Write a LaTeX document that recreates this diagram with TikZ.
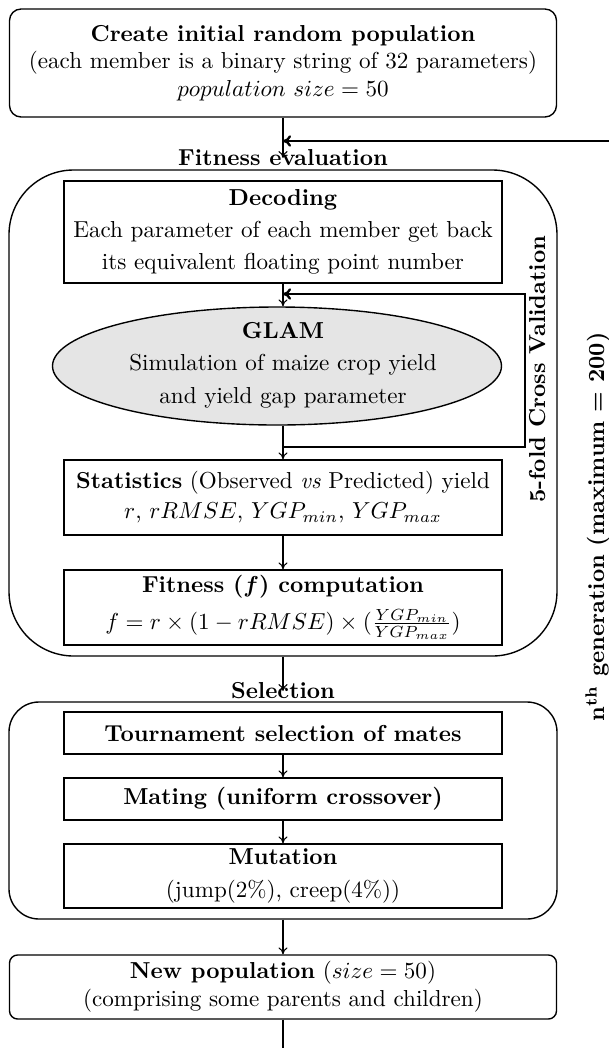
\documentclass[tikz,border=0pt]{standalone}
\usepackage{amsmath}
\usetikzlibrary{arrows.meta,shapes.geometric}
\definecolor{glamfill}{gray}{0.9}
\begin{document}
\begin{tikzpicture}[x=0.433pt,y=-0.433pt,
  box/.style={draw, line width=0.6pt, align=center, inner sep=0pt, minimum width=438*0.433pt},
  outerbox/.style={draw, line width=0.6pt, inner sep=0pt, minimum width=548*0.433pt},
  arr/.style={-{To[length=3pt,width=4pt]}, line width=0.45pt},
  thickarr/.style={-{To[length=3.5pt,width=5pt]}, line width=1pt},
  thickline/.style={line width=1pt},
  lbl/.style={font=\bfseries, inner sep=0pt}
]
\useasboundingbox (0,0) rectangle (609,1048);

% initial population
\node[draw, line width=0.6pt, rounded corners=5pt, minimum width=547*0.433pt, minimum height=108*0.433pt, align=center, inner sep=0pt] (init) at (283,63)
  {\textbf{Create initial random population}\\(each member is a binary string of 32 parameters)\\$population\ size=50$};

% fitness evaluation block
\node[outerbox, rounded corners=28pt, minimum height=486*0.433pt] (fit) at (283,413) {};
\node[lbl] (fitlbl) at (283,158) {Fitness evaluation};

\node[box, minimum height=102*0.433pt] (dec) at (283,232)
  {\textbf{Decoding}\\[2pt]Each parameter of each member get back\\[2pt]its equivalent floating point number};

\node[ellipse, draw, fill=glamfill, line width=0.6pt, minimum width=449*0.433pt, minimum height=118*0.433pt, inner sep=0pt] (glam) at (277,366) {};
\node[align=center, inner sep=0pt] (glamtext) at (283,365)
  {\textbf{GLAM}\\[2pt]Simulation of maize crop yield\\[2pt]and yield gap parameter};

\node[box, minimum height=75*0.433pt] (stats) at (283,497.5)
  {\textbf{Statistics} (Observed \textit{vs} Predicted) yield\\[1pt]$r$, $rRMSE$, $YGP_{min}$, $YGP_{max}$};

\node[box, minimum height=75*0.433pt] (fc) at (283,607.5)
  {\textbf{Fitness ($\boldsymbol{f}$) computation}\\[4pt]$f = r\times(1-rRMSE)\times(\frac{YGP_{min}}{YGP_{max}})$};

% cross validation loop
\coordinate (lpin) at (283,294);
\coordinate (lptr) at (525,294);
\coordinate (lpbr) at (525,447);
\coordinate (lpout) at (283,447);
\draw[thickarr] (lpout) -- (lpbr) -- (lptr) -- (lpin);
\node[lbl, rotate=90] (cv) at (538,369) {5-fold Cross Validation};

% selection block
\node[lbl] (sellbl) at (283,691) {Selection};
\node[outerbox, rounded corners=13pt, minimum height=217*0.433pt] (sel) at (283,810.5) {};
\node[box, minimum height=42*0.433pt] (tour) at (283,733) {\textbf{Tournament selection of mates}};
\node[box, minimum height=42*0.433pt] (mate) at (283,799) {\textbf{Mating (uniform crossover)}};
\node[box, minimum height=64*0.433pt] (mut) at (283,876) {\textbf{Mutation}\\[2pt](jump(2\%), creep(4\%))};

% new population
\node[draw, line width=0.6pt, rounded corners=3.5pt, minimum width=547*0.433pt, minimum height=64*0.433pt, align=center, inner sep=0pt] (np) at (283,987)
  {\textbf{New population} ($size=50$)\\(comprising some parents and children)};

% generation label
\node[lbl, rotate=90] (gen) at (598,527) {n\textsuperscript{th} generation (maximum = 200)};

% connectors
\coordinate (fbin) at (609,141);
\coordinate (fbtip) at (283,141);
\draw[thickarr] (fbin) -- (fbtip);
\draw[arr] (init.south) -- (fitlbl.center);
\draw[arr] (dec.south) -- (dec.south |- glam.north);
\draw[arr] (stats.north |- glam.south) -- (stats.north);
\draw[arr] (stats.south) -- (fc.north);
\draw[arr] (fit.south) -- (sellbl.center);
\draw[arr] (tour.south) -- (mate.north);
\draw[arr] (mate.south) -- (mut.north);
\draw[arr] (sel.south) -- (np.north);
\coordinate (bot) at (283,1048);
\draw[thickline] (np.south) -- (bot);
\end{tikzpicture}
\end{document}
